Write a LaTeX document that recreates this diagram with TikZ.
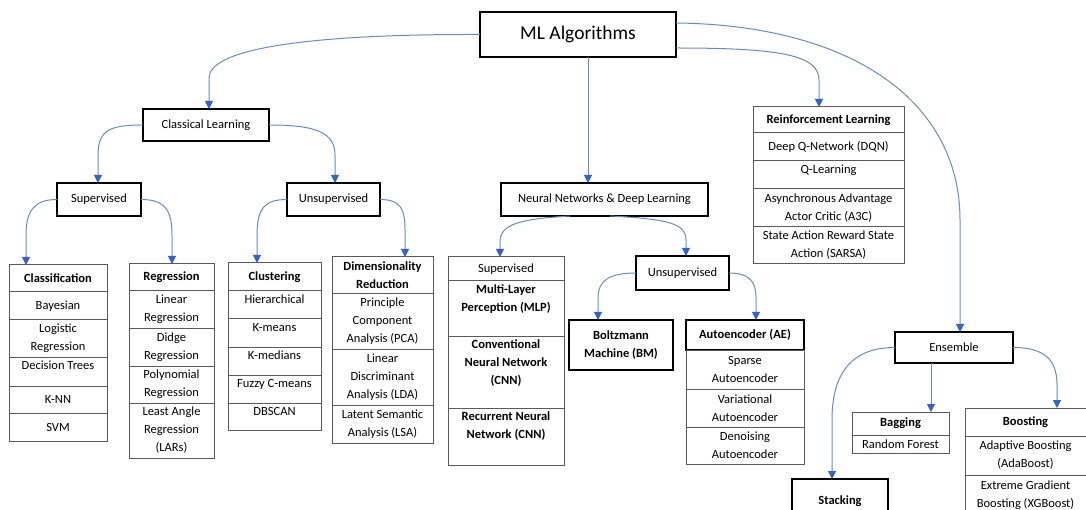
\documentclass[tikz,border=0pt]{standalone}
\usepackage{fontspec}
\setmainfont{Carlito}
\usetikzlibrary{arrows.meta}
\definecolor{conncol}{RGB}{105,140,190}
\definecolor{tipcol}{RGB}{50,100,200}
\definecolor{cellcol}{RGB}{90,90,90}
\newcommand\fnt{\fontsize{12.5}{18}\selectfont}

\begin{document}
\begin{tikzpicture}[x=1pt,y=-1pt,
  box/.style={draw=black, line width=1.8pt, fill=white, inner sep=1pt, outer sep=0pt,
    font=\fnt, align=center, anchor=north west},
  cell/.style={draw=cellcol, line width=1pt, fill=white, inner sep=1pt, outer sep=0pt,
    font=\fnt, align=center, anchor=north west},
  celltop/.style={cell, label={[anchor=north, yshift=-3pt, font=\fnt, align=center, inner sep=1pt]north:{#1}}},
  conn/.style={draw=conncol, line width=1pt, -{Triangle[width=8pt,length=8pt,color=tipcol]}},
]
\useasboundingbox (0,0) rectangle (1086,510);
\fill[white] (0,0) rectangle (1086,510);

% ---- main boxes ----
\node[box, minimum width=196, minimum height=45, font=\fontsize{19.5}{22}\selectfont] (ml) at (480,12) {ML Algorithms};
\node[box, minimum width=126, minimum height=32] (cl) at (143,109) {Classical Learning};
\node[box, minimum width=84, minimum height=33] (sup) at (57,183) {Supervised};
\node[box, minimum width=93, minimum height=33] (uns) at (287,183) {Unsupervised};
\node[box, minimum width=207, minimum height=33] (nn) at (501,183) {Neural Networks \& Deep Learning};
\node[box, minimum width=93, minimum height=34] (nnu) at (636,256) {Unsupervised};
\node[box, minimum width=104, minimum height=50] (bm) at (569,320) {\textbf{Boltzmann}\\\textbf{Machine (BM)}};
\node[box, minimum width=118, minimum height=30] (ae) at (686,320) {\textbf{Autoencoder (AE)}};
\node[box, minimum width=118, minimum height=31] (ens) at (895,332) {Ensemble};
\node[box, minimum width=96, minimum height=45] (stk) at (792,479) {\textbf{Stacking}};

% ---- Classification ----
\begin{scope}[every node/.append style={minimum width=98}]
\node[cell, minimum height=27] (c0) at (9,265) {\textbf{Classification}};
\node[cell, minimum height=28] (c1) at (c0.south west) {Bayesian};
\node[cell, minimum height=37] (c2) at (c1.south west) {Logistic\\Regression};
\node[celltop={Decision Trees}, minimum height=29] (c3) at (c2.south west) {};
\node[cell, minimum height=27] (c4) at (c3.south west) {K-NN};
\node[cell, minimum height=28] (c5) at (c4.south west) {SVM};
\end{scope}

% ---- Regression ----
\begin{scope}[every node/.append style={minimum width=85}]
\node[cell, minimum height=27] (r0) at (129,264) {\textbf{Regression}};
\node[cell, minimum height=37] (r1) at (r0.south west) {Linear\\Regression};
\node[cell, minimum height=38] (r2) at (r1.south west) {Didge\\Regression};
\node[cell, minimum height=37] (r3) at (r2.south west) {Polynomial\\Regression};
\node[cell, minimum height=55] (r4) at (r3.south west) {Least Angle\\Regression\\(LARs)};
\end{scope}

% ---- Clustering ----
\begin{scope}[every node/.append style={minimum width=93}]
\node[cell, minimum height=28] (k0) at (228,263) {\textbf{Clustering}};
\node[celltop={Hierarchical}, minimum height=28] (k1) at (k0.south west) {};
\node[celltop={K-means}, minimum height=28] (k2) at (k1.south west) {};
\node[celltop={K-medians}, minimum height=28] (k3) at (k2.south west) {};
\node[celltop={Fuzzy C-means}, minimum height=28] (k4) at (k3.south west) {};
\node[celltop={DBSCAN}, minimum height=27] (k5) at (k4.south west) {};
\end{scope}

% ---- Dimensionality reduction ----
\begin{scope}[every node/.append style={minimum width=101}]
\node[cell, minimum height=37] (d0) at (332,257) {\textbf{Dimensionality}\\\textbf{Reduction}};
\node[cell, minimum height=55] (d1) at (d0.south west) {Principle\\Component\\Analysis (PCA)};
\node[cell, minimum height=56] (d2) at (d1.south west) {Linear\\Discriminant\\Analysis (LDA)};
\node[cell, minimum height=38] (d3) at (d2.south west) {Latent Semantic\\Analysis (LSA)};
\end{scope}

% ---- Neural networks, supervised ----
\begin{scope}[every node/.append style={minimum width=116}]
\node[cell, minimum height=24] (s0) at (448,257) {Supervised};
\node[celltop={\textbf{Multi-Layer}\\\textbf{Perception (MLP)}}, minimum height=55] (s1) at (s0.south west) {};
\node[celltop={\textbf{Conventional}\\\textbf{Neural Network}\\\textbf{(CNN)}}, minimum height=72] (s2) at (s1.south west) {};
\node[celltop={\textbf{Recurrent Neural}\\\textbf{Network (CNN)}}, minimum height=57] (s3) at (s2.south west) {};
\end{scope}

% ---- Autoencoder variants ----
\begin{scope}[every node/.append style={minimum width=118}]
\node[cell, minimum height=39] (a1) at (ae.south west) {Sparse\\Autoencoder};
\node[cell, minimum height=38] (a2) at (a1.south west) {Variational\\Autoencoder};
\node[cell, minimum height=37] (a3) at (a2.south west) {Denoising\\Autoencoder};
\end{scope}

% ---- Reinforcement learning ----
\begin{scope}[every node/.append style={minimum width=151}]
\node[cell, minimum height=26] (l0) at (753,107) {\textbf{Reinforcement Learning}};
\node[cell, minimum height=28] (l1) at (l0.south west) {Deep Q-Network (DQN)};
\node[celltop={Q-Learning}, minimum height=28] (l2) at (l1.south west) {};
\node[cell, minimum height=38] (l3) at (l2.south west) {Asynchronous Advantage\\Actor Critic (A3C)};
\node[cell, minimum height=37] (l4) at (l3.south west) {State Action Reward State\\Action (SARSA)};
\end{scope}

% ---- Bagging ----
\begin{scope}[every node/.append style={minimum width=97}]
\node[cell, minimum height=23] (g0) at (852,412) {\textbf{Bagging}};
\node[cell, minimum height=18] (g1) at (g0.south west) {Random Forest};
\end{scope}

% ---- Boosting ----
\begin{scope}[every node/.append style={minimum width=121}]
\node[cell, minimum height=28] (b0) at (965,408) {\textbf{Boosting}};
\node[cell, minimum height=39] (b1) at (b0.south west) {Adaptive Boosting\\(AdaBoost)};
\node[cell, minimum height=41] (b2) at (b1.south west) {Extreme Gradient\\Boosting (XGBoost)};
\end{scope}

% ---- connectors ----
\draw[conn] (ml.west) .. controls (300,34) and (209,50) .. (209,78) -- (cl.north -| 209,0);
\draw[conn] (ml.south -| 588,0) -- (nn.north -| 588,0);
\draw[conn] ([yshift=-13.5pt]ml.east) .. controls (780,48) and (819,55) .. (819,80) -- (l0.north -| 819,0);
\draw[conn] ([yshift=11.5pt]ml.east) .. controls (850,25) and (960,100) .. (960,220) -- (ens.north -| 960,0);

\draw[conn] (cl.west) .. controls (110,125) and (98,130) .. (98,155) -- (sup.north -| 98,0);
\draw[conn] (cl.east) .. controls (315,125) and (335,132) .. (335,155) -- (uns.north -| 335,0);

\draw[conn] (sup.west) .. controls (35,199.5) and (26,210) .. (26,235) -- (c0.north -| 26,0);
\draw[conn] (sup.east) .. controls (165,199.5) and (172,210) .. (172,235) -- (r0.north -| 172,0);
\draw[conn] (uns.west) .. controls (265,199.5) and (257,208) .. (257,235) -- (k0.north -| 257,0);
\draw[conn] (uns.east) .. controls (400,199.5) and (405,208) .. (405,230) -- (d0.north -| 405,0);

\draw[conn] (nn.south -| 570,0) .. controls (520,219) and (500,224) .. (500,242) -- (s0.north -| 500,0);
\draw[conn] (nn.south -| 610,0) .. controls (670,219) and (686,224) .. (686,240) -- (nnu.north -| 686,0);

\draw[conn] (nnu.west) .. controls (610,273) and (598,280) .. (598,298) -- (bm.north -| 598,0);
\draw[conn] (nnu.east) .. controls (750,273) and (756,282) .. (756,298) -- (ae.north -| 756,0);

\draw[conn] (ens.west) .. controls (850,347.5) and (832,375) .. (832,420) -- (stk.north -| 832,0);
\draw[conn] (ens.south -| 931,0) -- (g0.north -| 931,0);
\draw[conn] (ens.east) .. controls (1045,347.5) and (1057,360) .. (1057,385) -- (b0.north -| 1057,0);
\end{tikzpicture}
\end{document}
